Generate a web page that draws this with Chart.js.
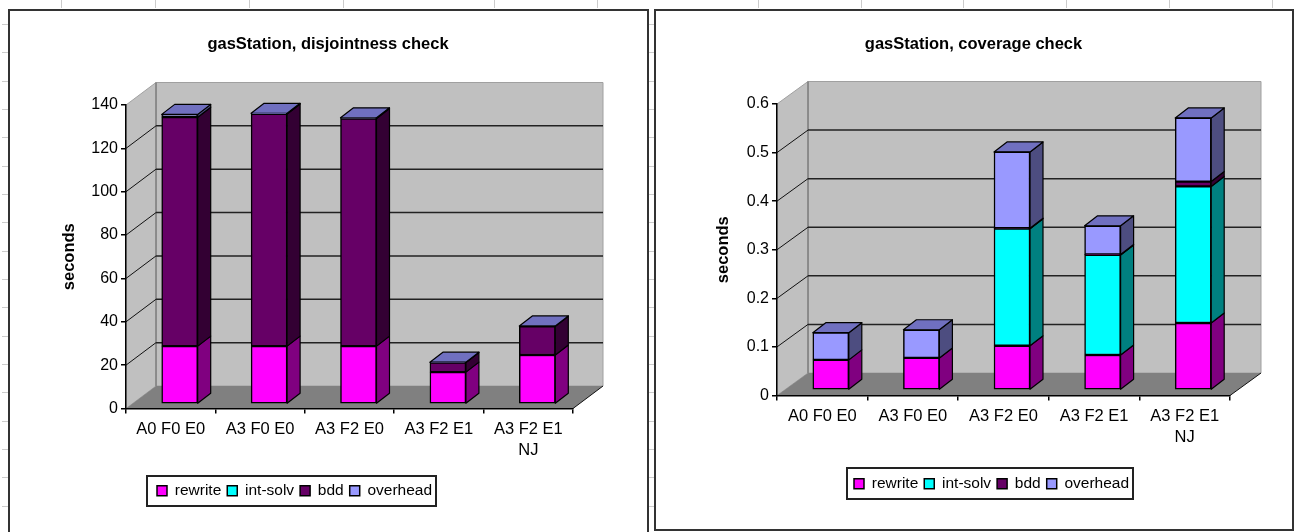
<!DOCTYPE html>
<html>
<head>
<meta charset="utf-8">
<style>
html,body{margin:0;padding:0;background:#fff;width:1294px;height:532px;overflow:hidden}
.frame{position:absolute;box-sizing:border-box;background:#fff;border:2px solid #333}
.mark{position:absolute;background:#ccc}
canvas{position:absolute;filter:blur(0.35px)}
.box{position:absolute}
</style>
<script src="https://cdn.jsdelivr.net/npm/chart.js@4"></script>
</head>
<body>
<div class="frame" style="left:8px;top:9px;width:641px;height:540px"></div>
<div class="frame" style="left:654px;top:9px;width:640px;height:522px"></div>
<div class="box" style="left:9px;top:10px;width:638px;height:522px"><canvas id="left"></canvas></div>
<div class="box" style="left:655px;top:10px;width:637px;height:520px"><canvas id="right"></canvas></div>
<script>
const categories = ['A0 F0 E0', 'A3 F0 E0', 'A3 F2 E0', 'A3 F2 E1', ['A3 F2 E1', 'NJ']];
const seriesNames = ['rewrite', 'int-solv', 'bdd', 'overhead'];

const disjointRewrite  = [26.7, 26.7, 26.7, 14.7, 22.6];
const disjointIntSolv  = [0, 0, 0, 0, 0];
const disjointBdd      = [105.6, 107.1, 105.0, 4.4, 13.2];
const disjointOverhead = [1.3, 0.3, 0.3, 0.2, 0.2];

const coverageRewrite  = [0.062, 0.066, 0.091, 0.072, 0.138];
const coverageIntSolv  = [0, 0, 0.241, 0.206, 0.281];
const coverageBdd      = [0, 0, 0.001, 0.001, 0.010];
const coverageOverhead = [0.056, 0.058, 0.157, 0.059, 0.131];

const fontFamily = '"Liberation Sans", Arial, sans-serif';
const frontColors = ['#ff00ff', '#00ffff', '#660066', '#9999ff'];
const sideColors = ['#800080', '#008080', '#330033', '#4d4d80'];
const topColor = '#7070c0';

/* spreadsheet grid peeking out behind the two chart frames */
const topMarks = [61, 155, 249, 343, 494, 597, 758, 861, 963, 1066, 1169, 1272];
topMarks.forEach(x => addMark(x, 0, 1, 8));
for (let i = 0; i < 18; i++) {
  const y = Math.round(24 + i * 28.33);
  addMark(2, y, 6, 1);
  addMark(649, y, 5, 1);
}
function addMark(x, y, w, h) {
  const d = document.createElement('div');
  d.className = 'mark';
  d.style.cssText = `left:${x}px;top:${y}px;width:${w}px;height:${h}px`;
  document.body.insertBefore(d, document.body.firstChild);
}

const box3d = {
  id: 'box3d',
  beforeDraw(chart, _a, o) {
    const {ctx, chartArea: {left: L, right: R, top: T, bottom: B}, scales: {y}} = chart;
    const dx = o.wallDx, dy = o.wallDy;
    const poly = (pts, fill, stroke, lw) => {
      ctx.beginPath();
      pts.forEach((p, i) => i ? ctx.lineTo(p[0], p[1]) : ctx.moveTo(p[0], p[1]));
      ctx.closePath();
      if (fill) { ctx.fillStyle = fill; ctx.fill(); }
      if (stroke) { ctx.strokeStyle = stroke; ctx.lineWidth = lw || 1; ctx.stroke(); }
    };
    ctx.save();
    poly([[L + dx, T - dy], [R + dx, T - dy], [R + dx, B - dy], [L + dx, B - dy]], '#c0c0c0', '#a0a0a0', 1);
    poly([[L, T], [L + dx, T - dy], [L + dx, B - dy], [L, B]], '#c0c0c0', '#a0a0a0', 1);
    poly([[L, B], [L + dx, B - dy], [R + dx, B - dy], [R, B]], '#808080');
    ctx.strokeStyle = '#808080';
    ctx.lineWidth = 1.5;
    ctx.beginPath();
    ctx.moveTo(L + dx, T - dy);
    ctx.lineTo(L + dx, B - dy);
    ctx.stroke();
    y.ticks.forEach(t => {
      if (t.value <= 0 || t.value >= y.max) return;
      const py = y.getPixelForValue(t.value);
      ctx.strokeStyle = '#111';
      ctx.lineWidth = 1;
      ctx.beginPath();
      ctx.moveTo(L, py);
      ctx.lineTo(L + dx, py - dy);
      ctx.stroke();
      ctx.strokeStyle = '#222';
      ctx.lineWidth = 1.5;
      ctx.beginPath();
      ctx.moveTo(L + dx, py - dy);
      ctx.lineTo(R + dx, py - dy);
      ctx.stroke();
    });
    ctx.strokeStyle = '#111';
    ctx.lineWidth = 1;
    ctx.beginPath();
    ctx.moveTo(R, B);
    ctx.lineTo(R + dx, B - dy);
    ctx.stroke();
    /* legend frame */
    const b = o.legendBox;
    poly([[b[0], b[1]], [b[2], b[1]], [b[2], b[3]], [b[0], b[3]]], '#fff', '#222', 2);
    ctx.restore();
  },
  afterLayout(chart, _a, o) {
    const lg = chart.legend;
    const w = lg.width, h = lg.height;
    lg.left = o.legendAt[0];
    lg.right = lg.left + w;
    lg.top = o.legendAt[1];
    lg.bottom = lg.top + h;
    chart.titleBlock.left = 0;
    chart.titleBlock.right = chart.width;
  },
  beforeDatasetsDraw(chart, _a, o) {
    const {ctx} = chart;
    const d = o.barDx, v = o.barDy;
    ctx.save();
    ctx.translate(o.shiftX, o.shiftY);
    ctx.strokeStyle = '#000';
    ctx.lineWidth = 1.2;
    ctx.lineJoin = 'round';
    const face = (pts, fill) => {
      ctx.beginPath();
      pts.forEach((p, i) => i ? ctx.lineTo(p[0], p[1]) : ctx.moveTo(p[0], p[1]));
      ctx.closePath();
      ctx.fillStyle = fill;
      ctx.fill();
      ctx.stroke();
    };
    const last = chart.data.datasets.length - 1;
    chart.data.datasets.forEach((ds, i) => {
      chart.getDatasetMeta(i).data.forEach((el, j) => {
        if (!ds.data[j]) return;
        const xr = el.x + el.width / 2, xl = el.x - el.width / 2;
        face([[xr, el.y], [xr + d, el.y - v], [xr + d, el.base - v], [xr, el.base]], sideColors[i]);
        if (i === last) face([[xl, el.y], [xl + d, el.y - v], [xr + d, el.y - v], [xr, el.y]], topColor);
      });
    });
    ctx.restore();
  },
  beforeDatasetDraw(chart, _a, o) {
    chart.ctx.save();
    chart.ctx.translate(o.shiftX, o.shiftY);
  },
  afterDatasetDraw(chart) {
    chart.ctx.restore();
  }
};

function makeChart(id, titleText, series, maxValue, step, g) {
  new Chart(document.getElementById(id), {
    type: 'bar',
    data: {
      labels: categories,
      datasets: series.map((vals, i) => ({
        label: seriesNames[i],
        data: vals,
        backgroundColor: frontColors[i],
        borderColor: '#000',
        borderWidth: 1.5,
        borderSkipped: false,
        barThickness: 36,
        clip: false
      }))
    },
    plugins: [box3d],
    options: {
      responsive: true,
      maintainAspectRatio: false,
      animation: false,
      layout: {padding: {left: g.padLeft, right: g.padRight, top: 0, bottom: g.padBottom}},
      plugins: {
        tooltip: {enabled: false},
        title: {
          display: true,
          text: titleText,
          color: '#000',
          font: {family: fontFamily, size: 16.5, weight: 'bold', lineHeight: 1.2},
          padding: {top: 25, bottom: g.titleBottom}
        },
        legend: {
          position: 'bottom',
          align: 'start',
          labels: {
            color: '#000',
            boxWidth: 10,
            boxHeight: 10,
            padding: 6,
            font: {family: fontFamily, size: 15.5}
          }
        },
        box3d: g.box
      },
      scales: {
        x: {
          stacked: true,
          afterFit(s) { s.height = 60; },
          border: {color: '#000', width: 1.5},
          grid: {drawOnChartArea: false, color: '#000', tickLength: 5, lineWidth: 1.5},
          ticks: {
            color: '#000',
            maxRotation: 0,
            autoSkip: false,
            padding: 6,
            font: {family: fontFamily, size: 16.5, lineHeight: 1.25}
          }
        },
        y: {
          stacked: true,
          min: 0,
          max: maxValue,
          afterFit(s) { s.width = g.axisWidth; },
          border: {color: '#000', width: 1.5},
          grid: {drawOnChartArea: false, color: '#000', tickLength: 5, lineWidth: 1.5},
          ticks: {
            color: '#000',
            stepSize: step,
            padding: 3,
            font: {family: fontFamily, size: 16}
          },
          title: {
            display: true,
            text: 'seconds',
            color: '#000',
            padding: 0,
            font: {family: fontFamily, size: 16.5, weight: 'bold', lineHeight: 1.2}
          }
        }
      }
    }
  });
}

makeChart('left', 'gasStation, disjointness check',
  [disjointRewrite, disjointIntSolv, disjointBdd, disjointOverhead], 140, 20, {
    padLeft: 51, padRight: 74, padBottom: 32, axisWidth: 66, titleBottom: 50.2,
    box: {wallDx: 30, wallDy: 22.5, barDx: 13, barDy: 10, shiftX: 9, shiftY: -4.5,
      legendBox: [138, 466, 427, 496], legendAt: [142, 467]}
  });

makeChart('right', 'gasStation, coverage check',
  [coverageRewrite, coverageIntSolv, coverageBdd, coverageOverhead], 0.6, 0.1, {
    padLeft: 59, padRight: 62, padBottom: 43, axisWidth: 63, titleBottom: 49.2,
    box: {wallDx: 31, wallDy: 22.5, barDx: 13, barDy: 10, shiftX: 8.5, shiftY: -5.5,
      legendBox: [192, 458, 478, 489], legendAt: [193, 460]}
  });
</script>
</body>
</html>
